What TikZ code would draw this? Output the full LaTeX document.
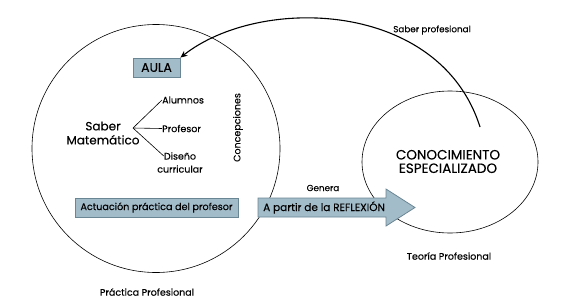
\documentclass[tikz,border=0pt]{standalone}
\usepackage{fontspec}
\setmainfont{Poppins}[FakeBold=0.2]
\usetikzlibrary{arrows.meta}
\definecolor{boxfill}{HTML}{A3BCCA}
\definecolor{boxline}{HTML}{6A8594}
\newcommand{\fs}[1]{\fontsize{#1}{#1}\selectfont}
\begin{document}
\begin{tikzpicture}[x=1pt,y=-1pt,
  lbl/.style={inner sep=0pt, font=\fs{9.5}},
  small/.style={inner sep=0pt, font=\fs{8.8}},
  box/.style={draw=boxline, fill=boxfill, line width=0.8pt, inner sep=0pt},
  ring/.style={draw=black, line width=0.6pt},
  branch/.style={draw=black, line width=0.6pt}]
\useasboundingbox (0,0) rectangle (562,303);
% circles
\draw[ring] (156,148.5) circle [radius=124pt];
\draw[ring] (450,162) ellipse [x radius=88pt, y radius=71pt];
% boxes
\node[box, minimum width=47pt, minimum height=19pt, font=\fs{12.5}] (aula) at (156.5,67.5) {AULA};
\node[box, minimum width=163pt, minimum height=19pt, font=\fs{9.6}] (act) at (156.5,207.5) {Actuación práctica del profesor};
% block arrow
\filldraw[draw=boxline, fill=boxfill, line width=0.8pt]
  (258,198) -- (386,198) -- (386,189) -- (415,207.5) -- (386,226) -- (386,217) -- (258,217) -- cycle;
\node[anchor=west, inner sep=0pt, font=\fs{10.5}] (refl) at (263,207.5) {A partir de la REFLEXIÓN};
% Saber matematico
\node[align=center, inner sep=0pt, font=\fs{12}] (sm) at (103,133) {Saber\\[2pt]Matemático};
\coordinate (br) at (133,128);
\node[lbl, anchor=west] (alu) at (162,100) {Alumnos};
\node[lbl, anchor=west] (pro) at (162,128.5) {Profesor};
\node[lbl] (dis) at (180,156) {Diseño};
\node[lbl] (cur) at (180,169) {curricular};
\draw[branch] (br) -- (alu.west);
\draw[branch] (br) -- (pro.west);
\draw[branch] (br) -- (dis.west);
\node[lbl, rotate=90] (conc) at (238,127.5) {Concepciones};
% specialised knowledge
\node[align=center, inner sep=0pt, font=\fs{13.5}] (ce) at (448,161.5) {CONOCIMIENTO\\[0pt]ESPECIALIZADO};
\node[small] (gen) at (323,188) {Genera};
\node[small] (sp) at (432,30) {Saber profesional};
\node[lbl] (tp) at (449,256) {Teoría Profesional};
\node[lbl] (pp) at (147,292) {Práctica Profesional};
% curved arrow
\coordinate (s) at (480,127);
\draw[line width=1.1pt, -{Stealth[length=7pt,width=6pt]}] (s) .. controls (440,0) and (260,-5) .. (aula.north east);
\end{tikzpicture}
\end{document}
